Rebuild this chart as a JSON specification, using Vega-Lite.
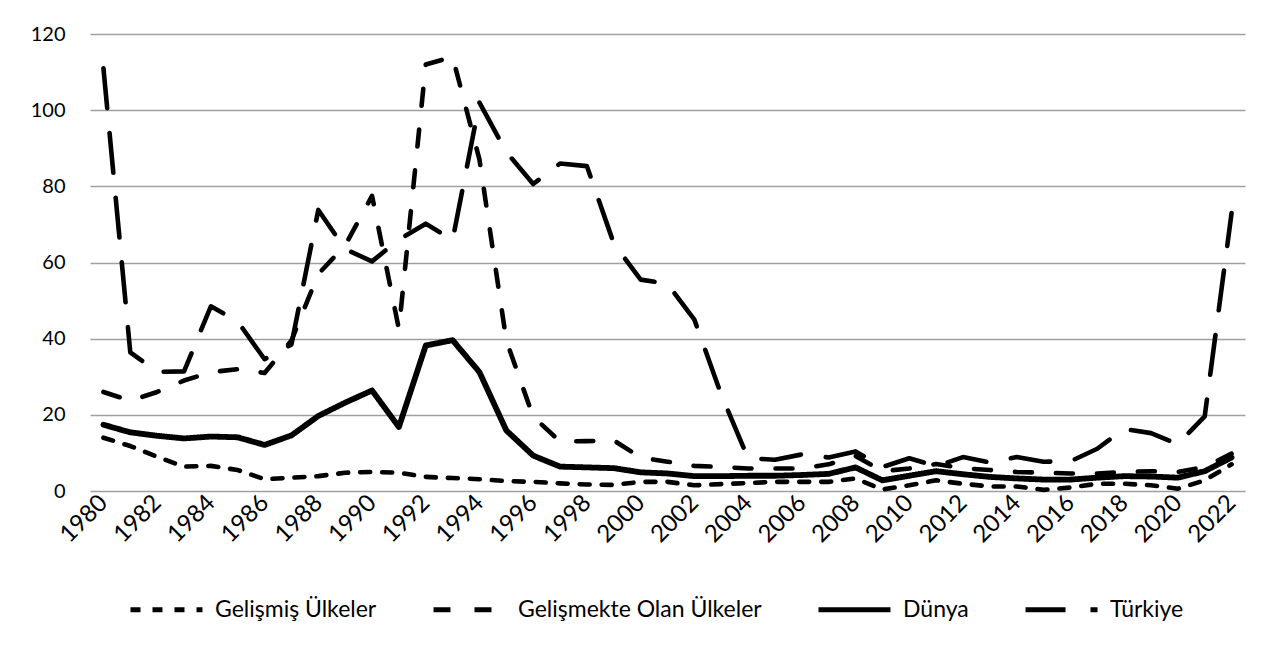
{
  "$schema": "https://vega.github.io/schema/vega-lite/v6.json",
  "width": 1155,
  "height": 457,
  "autosize": {"type": "none"},
  "padding": {"left": 90, "top": 34, "right": 40, "bottom": 156},
  "background": "white",
  "config": {
    "font": "Lato",
    "view": {"stroke": null},
    "axis": {"labelColor": "#000000", "labelFont": "Lato", "labelFontSize": 20, "titleFontSize": 0},
    "legend": {
      "orient": "none",
      "legendX": 38,
      "legendY": 537,
      "direction": "horizontal",
      "title": null,
      "symbolType": "stroke",
      "symbolSize": 5184,
      "symbolStrokeColor": "#000000",
      "symbolStrokeWidth": 5,
      "labelFontSize": 23,
      "labelFont": "Lato",
      "labelColor": "#000000",
      "labelOffset": 10,
      "columnPadding": 46,
      "labelLimit": 400
    }
  },
  "data": {
    "values": [
      {"yil": 1980, "Gelişmiş Ülkeler": 14.0, "Gelişmekte Olan Ülkeler": 26.0, "Dünya": 17.4, "Türkiye": 111.0},
      {"yil": 1981, "Gelişmiş Ülkeler": 11.8, "Gelişmekte Olan Ülkeler": 23.7, "Dünya": 15.4, "Türkiye": 36.4},
      {"yil": 1982, "Gelişmiş Ülkeler": 9.0, "Gelişmekte Olan Ülkeler": 26.0, "Dünya": 14.5, "Türkiye": 31.3},
      {"yil": 1983, "Gelişmiş Ülkeler": 6.4, "Gelişmekte Olan Ülkeler": 29.0, "Dünya": 13.8, "Türkiye": 31.4},
      {"yil": 1984, "Gelişmiş Ülkeler": 6.6, "Gelişmekte Olan Ülkeler": 31.2, "Dünya": 14.3, "Türkiye": 48.5},
      {"yil": 1985, "Gelişmiş Ülkeler": 5.5, "Gelişmekte Olan Ülkeler": 32.0, "Dünya": 14.1, "Türkiye": 44.5},
      {"yil": 1986, "Gelişmiş Ülkeler": 3.1, "Gelişmekte Olan Ülkeler": 31.0, "Dünya": 12.1, "Türkiye": 34.6},
      {"yil": 1987, "Gelişmiş Ülkeler": 3.5, "Gelişmekte Olan Ülkeler": 39.5, "Dünya": 14.6, "Türkiye": 38.5},
      {"yil": 1988, "Gelişmiş Ülkeler": 3.9, "Gelişmekte Olan Ülkeler": 57.0, "Dünya": 19.7, "Türkiye": 73.8},
      {"yil": 1989, "Gelişmiş Ülkeler": 4.8, "Gelişmekte Olan Ülkeler": 64.5, "Dünya": 23.2, "Türkiye": 63.5},
      {"yil": 1990, "Gelişmiş Ülkeler": 5.0, "Gelişmekte Olan Ülkeler": 77.5, "Dünya": 26.4, "Türkiye": 60.3},
      {"yil": 1991, "Gelişmiş Ülkeler": 4.8, "Gelişmekte Olan Ülkeler": 42.5, "Dünya": 16.8, "Türkiye": 66.0},
      {"yil": 1992, "Gelişmiş Ülkeler": 3.7, "Gelişmekte Olan Ülkeler": 112.0, "Dünya": 38.2, "Türkiye": 70.2},
      {"yil": 1993, "Gelişmiş Ülkeler": 3.4, "Gelişmekte Olan Ülkeler": 114.0, "Dünya": 39.6, "Türkiye": 65.9},
      {"yil": 1994, "Gelişmiş Ülkeler": 3.1, "Gelişmekte Olan Ülkeler": 87.0, "Dünya": 31.2, "Türkiye": 102.0},
      {"yil": 1995, "Gelişmiş Ülkeler": 2.6, "Gelişmekte Olan Ülkeler": 39.5, "Dünya": 15.9, "Türkiye": 89.0},
      {"yil": 1996, "Gelişmiş Ülkeler": 2.4, "Gelişmekte Olan Ülkeler": 19.5, "Dünya": 9.3, "Türkiye": 80.6},
      {"yil": 1997, "Gelişmiş Ülkeler": 2.0, "Gelişmekte Olan Ülkeler": 13.0, "Dünya": 6.4, "Türkiye": 86.0},
      {"yil": 1998, "Gelişmiş Ülkeler": 1.7, "Gelişmekte Olan Ülkeler": 13.1, "Dünya": 6.2, "Türkiye": 85.3},
      {"yil": 1999, "Gelişmiş Ülkeler": 1.6, "Gelişmekte Olan Ülkeler": 13.3, "Dünya": 6.0, "Türkiye": 65.0},
      {"yil": 2000, "Gelişmiş Ülkeler": 2.4, "Gelişmekte Olan Ülkeler": 8.8, "Dünya": 4.9, "Türkiye": 55.5},
      {"yil": 2001, "Gelişmiş Ülkeler": 2.4, "Gelişmekte Olan Ülkeler": 7.7, "Dünya": 4.6, "Türkiye": 54.4},
      {"yil": 2002, "Gelişmiş Ülkeler": 1.5, "Gelişmekte Olan Ülkeler": 6.6, "Dünya": 3.9, "Türkiye": 45.0},
      {"yil": 2003, "Gelişmiş Ülkeler": 1.8, "Gelişmekte Olan Ülkeler": 6.3, "Dünya": 3.9, "Türkiye": 25.3},
      {"yil": 2004, "Gelişmiş Ülkeler": 2.1, "Gelişmekte Olan Ülkeler": 5.9, "Dünya": 4.0, "Türkiye": 8.6},
      {"yil": 2005, "Gelişmiş Ülkeler": 2.4, "Gelişmekte Olan Ülkeler": 5.9, "Dünya": 4.0, "Türkiye": 8.2},
      {"yil": 2006, "Gelişmiş Ülkeler": 2.4, "Gelişmekte Olan Ülkeler": 5.9, "Dünya": 4.2, "Türkiye": 9.6},
      {"yil": 2007, "Gelişmiş Ülkeler": 2.4, "Gelişmekte Olan Ülkeler": 7.0, "Dünya": 4.5, "Türkiye": 8.8},
      {"yil": 2008, "Gelişmiş Ülkeler": 3.3, "Gelişmekte Olan Ülkeler": 9.2, "Dünya": 6.2, "Türkiye": 10.4},
      {"yil": 2009, "Gelişmiş Ülkeler": 0.4, "Gelişmekte Olan Ülkeler": 5.2, "Dünya": 2.8, "Türkiye": 6.3},
      {"yil": 2010, "Gelişmiş Ülkeler": 1.5, "Gelişmekte Olan Ülkeler": 5.9, "Dünya": 4.0, "Türkiye": 8.6},
      {"yil": 2011, "Gelişmiş Ülkeler": 2.8, "Gelişmekte Olan Ülkeler": 7.1, "Dünya": 5.2, "Türkiye": 6.5},
      {"yil": 2012, "Gelişmiş Ülkeler": 1.9, "Gelişmekte Olan Ülkeler": 6.0, "Dünya": 4.4, "Türkiye": 8.9},
      {"yil": 2013, "Gelişmiş Ülkeler": 1.2, "Gelişmekte Olan Ülkeler": 5.5, "Dünya": 3.7, "Türkiye": 7.5},
      {"yil": 2014, "Gelişmiş Ülkeler": 1.2, "Gelişmekte Olan Ülkeler": 5.0, "Dünya": 3.3, "Türkiye": 8.9},
      {"yil": 2015, "Gelişmiş Ülkeler": 0.3, "Gelişmekte Olan Ülkeler": 4.8, "Dünya": 3.0, "Türkiye": 7.7},
      {"yil": 2016, "Gelişmiş Ülkeler": 0.9, "Gelişmekte Olan Ülkeler": 4.6, "Dünya": 3.0, "Türkiye": 7.8},
      {"yil": 2017, "Gelişmiş Ülkeler": 1.9, "Gelişmekte Olan Ülkeler": 4.6, "Dünya": 3.5, "Türkiye": 11.1},
      {"yil": 2018, "Gelişmiş Ülkeler": 1.9, "Gelişmekte Olan Ülkeler": 5.0, "Dünya": 3.9, "Türkiye": 16.3},
      {"yil": 2019, "Gelişmiş Ülkeler": 1.5, "Gelişmekte Olan Ülkeler": 5.2, "Dünya": 3.8, "Türkiye": 15.2},
      {"yil": 2020, "Gelişmiş Ülkeler": 0.6, "Gelişmekte Olan Ülkeler": 5.0, "Dünya": 3.5, "Türkiye": 12.3},
      {"yil": 2021, "Gelişmiş Ülkeler": 2.8, "Gelişmekte Olan Ülkeler": 6.3, "Dünya": 5.2, "Türkiye": 19.6},
      {"yil": 2022, "Gelişmiş Ülkeler": 7.0, "Gelişmekte Olan Ülkeler": 9.8, "Dünya": 8.8, "Türkiye": 73.0}
    ]
  },
  "transform": [
    {"fold": ["Gelişmiş Ülkeler", "Gelişmekte Olan Ülkeler", "Dünya", "Türkiye"], "as": ["seri", "deger"]}
  ],
  "mark": {"type": "line", "color": "#000000", "strokeCap": "round", "strokeJoin": "round"},
  "encoding": {
    "x": {
      "field": "yil",
      "type": "quantitative",
      "scale": {"domain": [1979.5, 2022.5], "nice": false, "zero": false},
      "axis": {
        "title": null,
        "values": [1980, 1982, 1984, 1986, 1988, 1990, 1992, 1994, 1996, 1998, 2000, 2002, 2004, 2006, 2008, 2010, 2012, 2014, 2016, 2018, 2020, 2022],
        "format": "d",
        "labelAngle": -45,
        "labelAlign": "right",
        "labelBaseline": "middle",
        "labelPadding": 8,
        "labelFontSize": 24,
        "grid": false,
        "ticks": false,
        "domain": false,
        "labelOverlap": false,
        "labelFlush": false
      }
    },
    "y": {
      "field": "deger",
      "type": "quantitative",
      "scale": {"domain": [0, 120], "nice": false},
      "axis": {
        "title": null,
        "values": [0, 20, 40, 60, 80, 100, 120],
        "grid": true,
        "gridColor": "#a0a0a0",
        "gridWidth": 1.5,
        "ticks": false,
        "tickSize": 0,
        "domain": false,
        "labelPadding": 25
      }
    },
    "strokeDash": {
      "field": "seri",
      "type": "nominal",
      "scale": {
        "domain": ["Gelişmiş Ülkeler", "Gelişmekte Olan Ülkeler", "Dünya", "Türkiye"],
        "range": [[10, 12], [17, 24], [1, 0], [40, 25]]
      }
    },
    "strokeWidth": {
      "condition": {"test": "datum.seri === 'Dünya'", "value": 5.8},
      "value": 4.6
    }
  }
}
